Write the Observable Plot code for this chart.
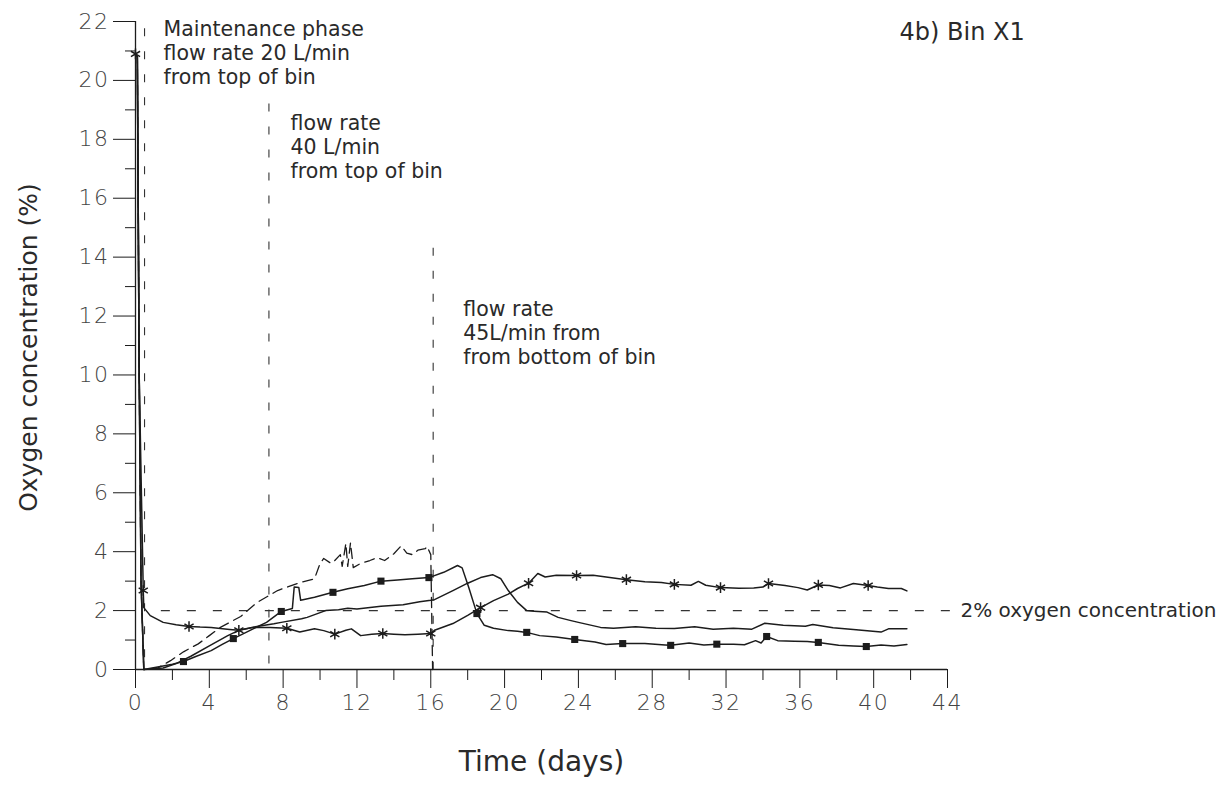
<!DOCTYPE html>
<html><head><meta charset="utf-8">
<script src="https://cdn.jsdelivr.net/npm/d3@7"></script>
<script src="https://cdn.jsdelivr.net/npm/@observablehq/plot@0.6"></script>
<style>
body{margin:0;background:#fff;}
#chart svg{display:block;}
#chart g[aria-label="x-axis tick label"] text,
#chart g[aria-label="y-axis tick label"] text{letter-spacing:1.5px;}
</style></head><body><div id="chart"></div>
<script>
// ---- Series A (asterisk markers) ----
const aDays = [0,0.1,0.2,0.42,0.45,0.8,1.5,2.2,2.9,3.5,4.1,5.1,5.6,6.4,7.3,8.2,8.9,9.7,10.2,10.8,11.4,11.7,12.2,12.8,13.4,14.0,14.6,15.3,16.0,16.2,16.5,17.2,18.0,18.7,19.4,20.2,20.7,21.3,21.8,22.2,22.8,23.9,24.8,25.6,26.6,27.6,28.5,29.2,30.1,30.5,30.9,31.7,32.7,33.5,34.0,34.3,35.2,35.9,36.4,37.0,37.6,38.2,38.9,39.7,40.2,40.8,41.5,41.8];
const aVals = [20.9,20.8,10,2.68,2.1,1.83,1.6,1.52,1.46,1.44,1.43,1.36,1.33,1.43,1.43,1.4,1.27,1.38,1.32,1.2,1.33,1.38,1.15,1.2,1.22,1.2,1.18,1.2,1.22,1.33,1.4,1.56,1.84,2.1,2.34,2.56,2.75,2.93,3.26,3.14,3.2,3.19,3.2,3.13,3.05,2.98,2.95,2.89,2.86,2.99,2.86,2.78,2.76,2.77,2.8,2.92,2.85,2.78,2.7,2.87,2.85,2.77,2.92,2.85,2.8,2.75,2.75,2.67];
const aMarkDays = [0,0.42,2.9,5.6,8.2,10.8,13.4,16.0,18.7,21.3,23.9,26.6,29.2,31.7,34.3,37.0,39.7];

// ---- Series B (filled square markers) ----
const bDays = [0,0.1,0.2,0.3,0.45,1.35,2.0,2.6,3.3,4.1,4.7,5.3,5.8,6.4,7.1,7.9,8.5,8.6,8.85,8.95,9.7,10.7,11.5,12.4,13.3,14.2,15.0,15.9,16.7,17.45,17.7,18.05,18.4,18.5,18.9,19.4,20.2,20.7,21.2,21.9,22.8,23.8,24.9,25.5,26.4,27.6,28.7,29.0,30.0,30.8,31.5,32.4,33.0,33.6,33.9,34.2,34.8,35.7,36.4,37.0,38.1,38.9,39.6,40.4,41.1,41.8];
const bVals = [20.9,20.8,10,3,0,0.1,0.18,0.27,0.45,0.64,0.85,1.05,1.2,1.39,1.6,1.97,2.07,2.8,2.78,2.35,2.45,2.62,2.74,2.85,3.0,3.04,3.08,3.12,3.3,3.53,3.45,2.8,2.1,1.9,1.5,1.4,1.32,1.3,1.26,1.15,1.1,1.02,0.93,0.85,0.88,0.88,0.83,0.82,0.9,0.83,0.86,0.86,0.84,0.98,0.9,1.12,0.98,0.96,0.95,0.92,0.82,0.8,0.78,0.83,0.8,0.85];
const bMarkDays = [2.6,5.3,7.9,10.7,13.3,15.9,18.5,21.2,23.8,26.4,29.0,31.5,34.2,37.0,39.6];

// ---- Series C (plain solid line) ----
const cDays = [0,0.1,0.2,0.3,0.45,1.5,2.2,3.0,4.0,5.0,5.6,6.5,7.5,7.9,9.0,9.3,10.3,11.0,11.5,12.0,13.3,14.5,15.4,16.0,16.2,17.2,18.0,18.7,19.35,19.8,20.2,20.7,21.2,21.6,22.3,22.9,23.6,24.0,25.2,25.9,27.1,28.2,29.2,30.3,31.3,32.4,33.4,34.1,35.1,36.3,36.7,37.8,38.9,40.4,40.8,41.8];
const cVals = [20.9,20.8,10,3,0,0.05,0.2,0.45,0.8,1.15,1.33,1.45,1.55,1.6,1.72,1.77,2.0,2.03,2.08,2.05,2.15,2.2,2.3,2.35,2.37,2.68,2.93,3.12,3.22,3.08,2.68,2.28,2.0,1.98,1.95,1.77,1.66,1.6,1.43,1.4,1.45,1.4,1.39,1.45,1.37,1.4,1.37,1.57,1.5,1.47,1.53,1.42,1.36,1.27,1.38,1.38];

// ---- Series D (dashed line) ----
const dDays = [0,0.1,0.2,0.3,0.45,1.2,1.9,2.6,3.4,4.0,4.6,5.7,6.6,7.7,8.9,9.7,10.0,10.2,10.6,10.8,11.1,11.2,11.4,11.5,11.65,11.8,12.2,12.7,13.1,13.5,14.0,14.4,14.7,15.0,15.3,15.7,15.8,16.0,16.1];
const dVals = [20.9,20.8,10,3,0,0.05,0.3,0.6,0.87,1.15,1.43,1.8,2.28,2.68,2.95,3.08,3.6,3.77,3.6,3.7,3.9,3.5,4.28,3.5,4.3,3.46,3.6,3.7,3.8,3.7,3.93,4.2,3.95,3.9,4.05,4.1,4.18,3.9,0];

// ---- Axes ticks ----
const xMajor = [0,4,8,12,16,20,24,28,32,36,40,44];
const xMinor = [2,6,10,14,18,22,26,30,34,38,42];
const yMajor = [0,2,4,6,8,10,12,14,16,18,20,22];
const yMinor = [1,3,5,7,9,11,13,15,17,19,21];

// ---- Phase change lines and annotations ----
const phaseDays = [0.49, 7.23, 16.13];
const phaseTops = [21.75, 19.2, 14.3];
const phaseText = ["Maintenance phase\nflow rate 20 L/min\nfrom top of bin",
                   "flow rate\n40 L/min\nfrom top of bin",
                   "flow rate\n45L/min from\nfrom bottom of bin"];
const phaseTextDay = [1.52, 8.4, 17.76];
const phaseTextO2 = [20.95, 17.76, 11.45];

const threshold = 2;
const thresholdFrom = 1.4, thresholdTo = 44.6;
const thresholdLabel = "2% oxygen concentration";
const titleText = "4b) Bin X1";
const titleDay = 41.4, titleO2 = 21.62;
const xLabel = "Time (days)";
const yLabel = "Oxygen concentration (%)";

const toRows = (days, vals) => days.map((d, i) => ({day: d, o2: vals[i]}));
const A = toRows(aDays, aVals), B = toRows(bDays, bVals), C = toRows(cDays, cVals), D = toRows(dDays, dVals);
const phases = phaseDays.map((d, i) => ({day: d, top: phaseTops[i]}));
const notes = phaseText.map((t, i) => ({text: t, day: phaseTextDay[i], o2: phaseTextO2[i]}));

const ink = "#1c1c1c";
const txt = "#2a2a2a";

const chart = Plot.plot({
  width: 1230, height: 787,
  marginLeft: 135, marginRight: 283, marginTop: 21, marginBottom: 118,
  x: {domain: [0, 44]},
  y: {domain: [0, 22]},
  style: {fontFamily: "DejaVu Sans", background: "#fff", color: txt, overflow: "visible"},
  marks: [
    Plot.axisX({ticks: xMajor, tickSize: 19, tickPadding: 6, fontSize: 22, fontWeight: 200, label: null, stroke: ink, fill: "#444"}),
    Plot.axisX({ticks: xMinor, tickSize: 11, tickFormat: () => "", label: null, stroke: ink}),
    Plot.axisY({ticks: yMajor, tickSize: 22, tickPadding: 4, fontSize: 22, fontWeight: 200, label: null, stroke: ink, fill: "#444"}),
    Plot.axisY({ticks: yMinor, tickSize: 10, tickFormat: () => "", label: null, stroke: ink}),
    Plot.ruleX([0], {y1: 0, y2: 22, stroke: ink, strokeWidth: 1.3}),
    Plot.ruleY([0], {x1: 0, x2: 44, stroke: ink, strokeWidth: 1.3}),
    Plot.ruleX(phases, {x: "day", y1: "top", y2: 0, stroke: "#333", strokeWidth: 1.1, strokeDasharray: "8,15"}),
    Plot.ruleY([threshold], {x1: thresholdFrom, x2: thresholdTo, stroke: "#333", strokeWidth: 1.3, strokeDasharray: "9,17"}),
    Plot.line(D, {x: "day", y: "o2", stroke: ink, strokeWidth: 1.3, strokeDasharray: "10,6"}),
    Plot.line(C, {x: "day", y: "o2", stroke: ink, strokeWidth: 1.5}),
    Plot.line(B, {x: "day", y: "o2", stroke: ink, strokeWidth: 1.5}),
    Plot.line(A, {x: "day", y: "o2", stroke: ink, strokeWidth: 1.5}),
    Plot.dot(B.filter(d => bMarkDays.includes(d.day)), {x: "day", y: "o2", symbol: "square", r: 4, fill: ink, stroke: null}),
    Plot.dot(A.filter(d => aMarkDays.includes(d.day)), {x: "day", y: "o2", symbol: "asterisk", r: 5, stroke: ink, strokeWidth: 1.5}),
    Plot.text(notes, {x: "day", y: "o2", text: "text", textAnchor: "start", lineAnchor: "middle", lineHeight: 1.16, fontSize: 20.5, fill: txt}),
    Plot.text([thresholdLabel], {x: thresholdTo + 0.1, y: threshold, textAnchor: "start", fontSize: 20, fill: txt}),
    Plot.text([titleText], {x: titleDay, y: titleO2, textAnchor: "start", fontSize: 24, fill: txt}),
    Plot.text([xLabel], {frameAnchor: "bottom", dy: 101, textAnchor: "middle", fontSize: 28, fill: txt}),
    Plot.text([yLabel], {frameAnchor: "left", dx: -107, dy: 2, textAnchor: "middle", rotate: -90, fontSize: 25, fill: txt})
  ]
});
document.getElementById("chart").appendChild(chart);
</script></body></html>
